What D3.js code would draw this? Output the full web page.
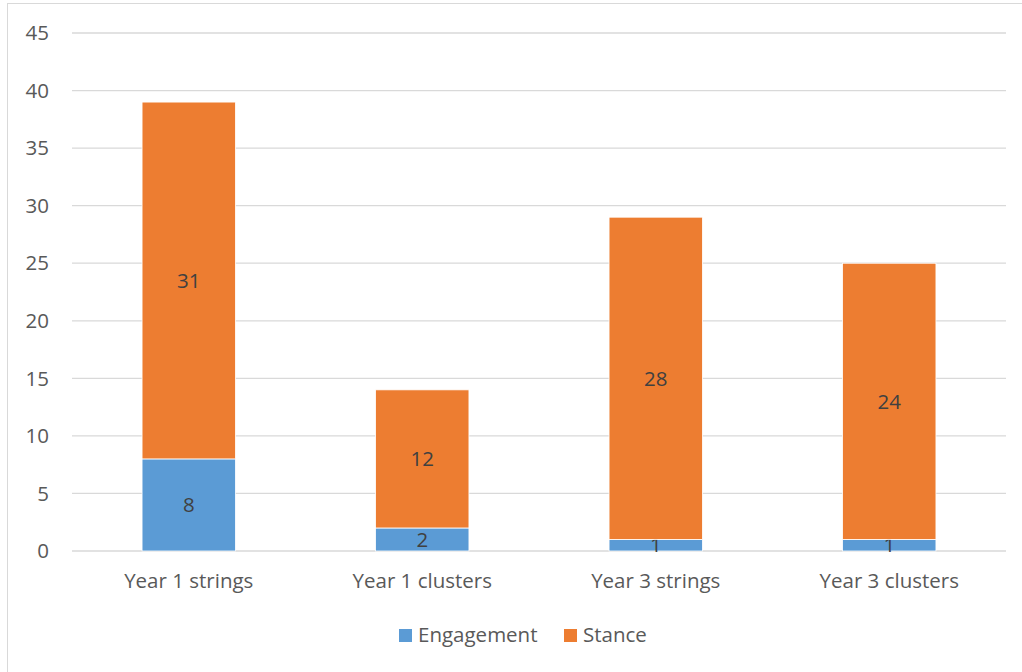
<!DOCTYPE html>
<html><head><meta charset="utf-8">
<script src="https://cdn.jsdelivr.net/npm/d3@7"></script>
<style>body{margin:0;background:#fff}svg{display:block}</style>
</head><body>
<svg id="c" width="1022" height="672"></svg>
<script>
const categories = ["Year 1 strings", "Year 1 clusters", "Year 3 strings", "Year 3 clusters"];
const engagement = [8, 2, 1, 1];
const stance = [31, 12, 28, 24];
const seriesNames = ["Engagement", "Stance"];
const colors = ["#5b9bd5", "#ed7d31"];
const yTicks = [0, 5, 10, 15, 20, 25, 30, 35, 40, 45];

const svg = d3.select("#c");
const font = "Open Sans, Noto Sans, sans-serif";
const fs = 20.5;
svg.append("rect").attr("x", 7.5).attr("y", 3.5).attr("width", 1030).attr("height", 700)
  .attr("fill", "#fff").attr("stroke", "#d9d9d9").attr("stroke-width", 1);

const x = d3.scaleBand().domain(categories).range([72, 1006]).paddingInner(0.6).paddingOuter(0.3);
const y = d3.scaleLinear().domain([0, 45]).range([551, 33]);

const rows = categories.map((c, i) => ({cat: c, Engagement: engagement[i], Stance: stance[i]}));
const stack = d3.stack().keys(seriesNames)(rows);

// gridlines
svg.append("g").selectAll("line").data(yTicks).join("line")
  .attr("x1", 72).attr("x2", 1006)
  .attr("y1", d => y(d)).attr("y2", d => y(d))
  .attr("stroke", "#d9d9d9").attr("stroke-width", 1.3);

// y labels
svg.append("g").selectAll("text").data(yTicks).join("text")
  .attr("x", 49).attr("y", d => y(d)).attr("dy", "0.35em")
  .attr("text-anchor", "end").attr("font-family", font).attr("font-size", fs)
  .attr("fill", "#595959").text(d => d);

// bars
stack.forEach((s, si) => {
  const g = svg.append("g");
  g.selectAll("rect").data(s).join("rect")
    .attr("x", d => x(d.data.cat)).attr("width", x.bandwidth())
    .attr("y", d => y(d[1])).attr("height", d => y(d[0]) - y(d[1]))
    .attr("fill", colors[si]).attr("stroke", "#fff").attr("stroke-width", 0.8);
  g.selectAll("text").data(s).join("text")
    .attr("x", d => x(d.data.cat) + x.bandwidth() / 2)
    .attr("y", d => (y(d[0]) + y(d[1])) / 2).attr("dy", "0.35em")
    .attr("text-anchor", "middle").attr("font-family", font).attr("font-size", fs)
    .attr("fill", "#404040").text(d => d[1] - d[0]);
});

// x labels
svg.append("g").selectAll("text").data(categories).join("text")
  .attr("x", d => x(d) + x.bandwidth() / 2).attr("y", 581).attr("dy", "0.35em")
  .attr("text-anchor", "middle").attr("font-family", font).attr("font-size", fs)
  .attr("fill", "#595959").text(d => d);

// legend
const legX = [399, 564];
const lg = svg.append("g");
seriesNames.forEach((n, i) => {
  lg.append("rect").attr("x", legX[i]).attr("y", 629).attr("width", 13).attr("height", 13).attr("fill", colors[i]);
  lg.append("text").attr("x", legX[i] + 19).attr("y", 635).attr("dy", "0.35em")
    .attr("font-family", font).attr("font-size", fs).attr("fill", "#595959").text(n);
});
</script>
</body></html>
